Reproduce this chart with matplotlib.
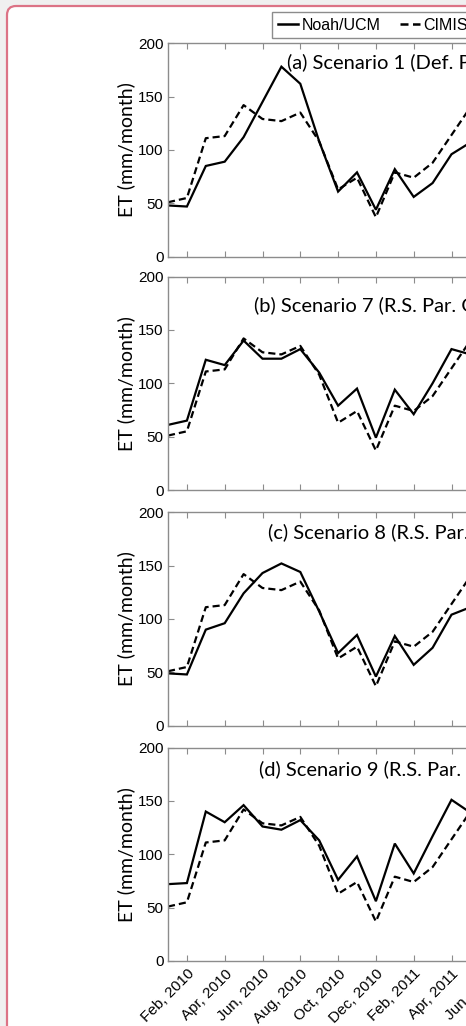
import matplotlib.pyplot as plt
from matplotlib.patches import FancyBboxPatch
from matplotlib.lines import Line2D

# monthly ET, Jan 2010 .. May 2011
months = ["Jan, 2010", "Feb, 2010", "Mar, 2010", "Apr, 2010", "May, 2010", "Jun, 2010",
          "Jul, 2010", "Aug, 2010", "Sep, 2010", "Oct, 2010", "Nov, 2010", "Dec, 2010",
          "Jan, 2011", "Feb, 2011", "Mar, 2011", "Apr, 2011", "May, 2011"]
tick_labels = ["Feb, 2010", "Apr, 2010", "Jun, 2010", "Aug, 2010", "Oct, 2010", "Dec, 2010",
               "Feb, 2011", "Apr, 2011", "Jun, 2011", "Aug, 2011", "Oct, 2011"]

cimis = [51, 55, 111, 113, 142, 129, 127, 135, 108, 63, 74, 37, 79, 74, 88, 114, 140]

noah_s1 = [48, 47, 85, 89, 112, 145, 178, 162, 108, 61, 79, 44, 82, 56, 69, 96, 107]
noah_s7 = [61, 65, 122, 117, 140, 123, 123, 132, 110, 79, 95, 49, 94, 71, 100, 132, 127]
noah_s8 = [49, 48, 90, 96, 124, 143, 152, 144, 107, 68, 85, 46, 84, 57, 73, 104, 111]
noah_s9 = [72, 73, 140, 130, 146, 126, 123, 132, 113, 76, 98, 56, 110, 82, 117, 151, 139]

series = [noah_s1, noah_s7, noah_s8, noah_s9]
titles = ["(a) Scenario 1 (Def. Par.)",
          "(b) Scenario 7 (R.S. Par. GVF)",
          "(c) Scenario 8 (R.S. Par. LAI)",
          "(d) Scenario 9 (R.S. Par. All)"]

W, H = 466, 1026
fig = plt.figure(figsize=(W / 100, H / 100), dpi=100, facecolor="#f0f0f0")

# rounded page frame, kept behind the axes
frame = FancyBboxPatch((0.07, -1.0), 8.0, (H - 6) / 100 + 1.0,
                       boxstyle="round,pad=0,rounding_size=0.09",
                       transform=fig.dpi_scale_trans, facecolor="white",
                       edgecolor="#dc7386", linewidth=1.6, zorder=-5)
fig.patches.append(frame)

ax_left = 168
month_px = 18.9
ax_w = 23 * month_px
ax_h = 213.5
bottoms = [256.7, 490.0, 725.7, 961.0]
title_pos = [(287, 62), (254, 305), (268, 532), (259, 769)]

x = list(range(len(months)))
tick_pos = list(range(1, 23, 2))
grey = "#8c8c8c"
dash = (0, (3.2, 1.8))

for k in range(4):
    b = bottoms[k]
    ax = fig.add_axes([ax_left / W, (H - b) / H, ax_w / W, ax_h / H])
    ax.plot(x, series[k], color="black", lw=1.6, solid_joinstyle="miter")
    ax.plot(x, cimis, color="black", lw=1.6, linestyle=dash)
    ax.set_xlim(0, 23)
    ax.set_ylim(0, 200)
    ax.set_yticks([0, 50, 100, 150, 200])
    ax.set_xticks(tick_pos)
    for s in ax.spines.values():
        s.set_color(grey)
        s.set_linewidth(1.0)
    ax.tick_params(direction="in", length=4, color=grey, top=True, right=True,
                   labelsize=11, pad=3)
    for lab in ax.get_yticklabels():
        lab.set_fontfamily("Liberation Sans")
    if k < 3:
        ax.set_xticklabels([])
    else:
        ax.set_xticklabels(tick_labels, rotation=45, ha="right", va="top",
                           rotation_mode="anchor", fontfamily="Liberation Sans", fontsize=11)
        ax.tick_params(axis="x", pad=4)
    ax.set_ylabel("ET (mm/month)", fontfamily="Lato", fontsize=14, labelpad=2)
    tx, ty = title_pos[k]
    ax.text((tx - ax_left) / ax_w, 1 - (ty - (b - ax_h)) / ax_h, titles[k],
            transform=ax.transAxes, ha="left", va="center",
            fontfamily="Lato", fontsize=14.5)

handles = [Line2D([], [], color="black", lw=1.8),
           Line2D([], [], color="black", lw=1.8, linestyle=dash)]
fig.legend(handles, ["Noah/UCM", "CIMIS"], ncol=2, loc="upper left",
           bbox_to_anchor=(272 / W, 1 - 12 / H), prop={"family": "Liberation Sans", "size": 11.5},
           handlelength=1.25, handletextpad=0.25, columnspacing=1.2, borderpad=0.35,
           borderaxespad=0, fancybox=False, edgecolor=grey, framealpha=1)

fig.savefig("out.png", dpi=100, facecolor=fig.get_facecolor())
